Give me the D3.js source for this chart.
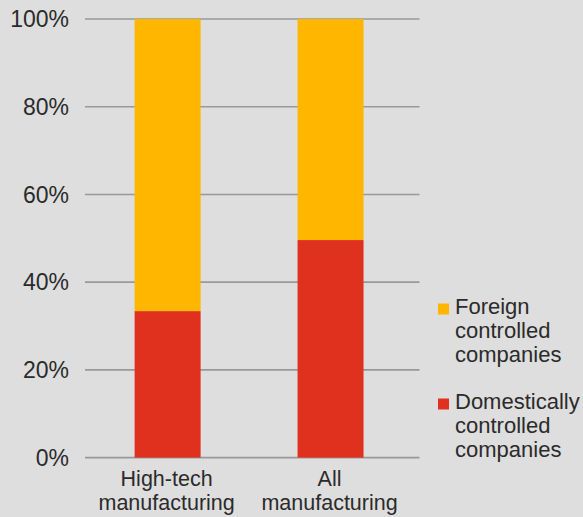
<!DOCTYPE html>
<html>
<head>
<meta charset="utf-8">
<script src="https://cdn.jsdelivr.net/npm/d3@7"></script>
<style>
  html, body { margin: 0; padding: 0; background: #dedede; }
  svg { display: block; }
  text { font-family: "Liberation Sans", Arial, Helvetica, sans-serif; fill: #2b2b2b; }
</style>
</head>
<body>
<svg id="chart" width="583" height="517"></svg>
<script>
const categories = [["High-tech", "manufacturing"], ["All", "manufacturing"]];
const categoryKeys = ["High-tech manufacturing", "All manufacturing"];
const domestic = [0.334, 0.496];
const foreign = [0.666, 0.504];
const seriesNames = [["Foreign", "controlled", "companies"], ["Domestically", "controlled", "companies"]];
const seriesColors = ["#ffb600", "#e0301e"];
const yTicks = [0, 0.2, 0.4, 0.6, 0.8, 1.0];

const svg = d3.select("#chart");
svg.append("rect").attr("width", 583).attr("height", 517).attr("fill", "#dedede");

const x = d3.scaleBand().domain(categoryKeys).range([85, 419.5])
  .paddingInner(0.595).paddingOuter(0.324).align(0.47);
const y = d3.scaleLinear().domain([0, 1]).range([457.6, 19]);

// gridlines
svg.append("g").selectAll("line").data(yTicks).join("line")
  .attr("x1", 85).attr("x2", 419.5)
  .attr("y1", d => y(d)).attr("y2", d => y(d))
  .attr("stroke", "#999999").attr("stroke-width", 1.6);

// y labels
svg.append("g").selectAll("text").data(yTicks).join("text")
  .attr("x", 69).attr("y", d => y(d)).attr("dy", "0.36em")
  .attr("text-anchor", "end").attr("font-size", 23)
  .text(d => d3.format(".0%")(d));

// stacked bars
const rows = categoryKeys.map((k, i) => ({ key: k, domestic: domestic[i], foreign: foreign[i] }));
const stack = d3.stack().keys(["domestic", "foreign"])(rows);
const colorFor = { domestic: seriesColors[1], foreign: seriesColors[0] };
svg.append("g").selectAll("g").data(stack).join("g")
  .attr("fill", s => colorFor[s.key])
  .selectAll("rect").data(s => s).join("rect")
  .attr("x", d => x(d.data.key))
  .attr("width", x.bandwidth())
  .attr("y", d => y(Math.min(1, d[1])))
  .attr("height", d => y(d[0]) - y(Math.min(1, d[1])));

// category labels (one text per line)
const catG = svg.append("g").selectAll("g").data(categories).join("g");
catG.selectAll("text").data((d, i) => d.map(t => ({ t, i }))).join("text")
  .attr("text-anchor", "middle").attr("font-size", 21.5)
  .attr("x", d => x(categoryKeys[d.i]) + x.bandwidth() / 2 - 1)
  .attr("y", (d, j) => 486 + j * 23.5)
  .text(d => d.t);

// legend
const legendTop = [314, 409];
const lg = svg.append("g").selectAll("g").data(seriesNames).join("g");
lg.append("rect").attr("x", 438).attr("y", (d, i) => legendTop[i] - 10.5)
  .attr("width", 11).attr("height", 11).attr("fill", (d, i) => seriesColors[i]);
lg.append("text").attr("font-size", 22)
  .selectAll("tspan").data((d, i) => d.map(t => ({ t, i }))).join("tspan")
  .attr("x", 455)
  .attr("y", (d, j) => legendTop[d.i] + j * 23.8)
  .text(d => d.t);
</script>
</body>
</html>
